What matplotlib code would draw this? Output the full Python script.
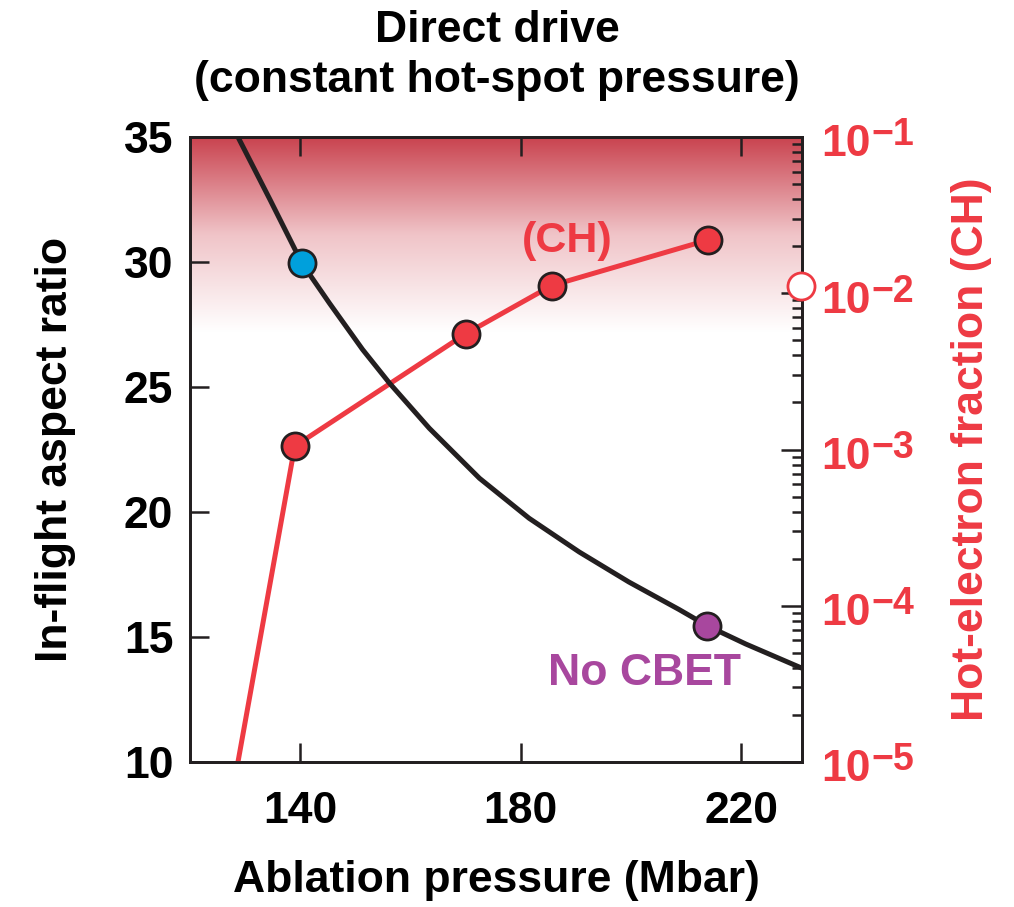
import numpy as np
import matplotlib
matplotlib.use("Agg")
import matplotlib.pyplot as plt
from matplotlib.colors import LinearSegmentedColormap
from matplotlib.ticker import FixedLocator, LogLocator, NullFormatter

plt.rcParams['font.family'] = ['Liberation Sans', 'DejaVu Sans']
plt.rcParams['font.weight'] = 'bold'
plt.rcParams['axes.labelweight'] = 'bold'

# black curve: in-flight aspect ratio vs ablation pressure
ifar_p = [128.7, 134.5, 140.3, 145.3, 151.3, 156.2, 163.4, 172.5, 181.5,
          190.6, 199.6, 208.7, 213.8, 220.8, 230.8]
ifar_v = [35.0, 32.5, 29.95, 28.35, 26.5, 25.15, 23.35, 21.35, 19.75,
          18.4, 17.2, 16.1, 15.45, 14.72, 13.77]

# blue / purple points on the black curve
blue_pt = (140.3, 29.95)
nocbet_pt = (213.8, 15.45)

# red curve: hot-electron fraction (CH)
hot_p = [128.7, 139.0, 170.0, 185.6, 213.9]
hot_v = [1.0e-5, 1.05e-3, 5.5e-3, 1.12e-2, 2.19e-2]
hot_marker_p = [139.0, 170.0, 185.6, 213.9]
hot_marker_v = [1.05e-3, 5.5e-3, 1.12e-2, 2.19e-2]

# open circle on the right axis
open_pt = (230.8, 1.11e-2)

x_ticks = [140, 180, 220]
y_ticks = [10, 15, 20, 25, 30, 35]
log_ticks = [1e-5, 1e-4, 1e-3, 1e-2, 1e-1]
log_exps = ['\u22125', '\u22124', '\u22123', '\u22122', '\u22121']

RED = '#ee3a43'
BLUE = '#00a0dc'
PURPLE = '#a8479e'
DARK = '#231f20'

fig = plt.figure(figsize=(10.14, 9.07), dpi=100)
ax = fig.add_axes([190 / 1014, 1 - 762 / 907, 612 / 1014, 625 / 907])
ax2 = ax.twinx()

# shaded band at the top
cmap = LinearSegmentedColormap.from_list('band', ['#ffffff', '#f0c4c8', '#c9434f'])
grad = np.linspace(0, 1, 256).reshape(-1, 1)
ax.imshow(grad, cmap=cmap, origin='lower', aspect='auto',
          extent=[120, 231, 27.2, 35], zorder=0, interpolation='bicubic')

ax.set_xlim(120, 231)
ax.set_ylim(10, 35)
ax2.set_yscale('log')
ax2.set_ylim(1e-5, 1e-1)

# red curve on log axis
ax2.plot(hot_p, hot_v, color=RED, lw=3.6, zorder=2, solid_capstyle='butt')
ax2.plot(hot_marker_p, hot_marker_v, 'o', ms=19.5, mfc=RED, mec=DARK, mew=2, zorder=3)
ax2.plot([open_pt[0]], [open_pt[1]], 'o', ms=19.5, mfc='white', mec=RED, mew=2,
         zorder=6, clip_on=False)

# black curve drawn on top (linear axis coords)
ax2.plot(ifar_p, ifar_v, color=DARK, lw=3.6, zorder=4, transform=ax.transData,
         solid_joinstyle='round')
ax2.plot([blue_pt[0]], [blue_pt[1]], 'o', ms=19.5, mfc=BLUE, mec=DARK, mew=2,
         zorder=5, transform=ax.transData)
ax2.plot([nocbet_pt[0]], [nocbet_pt[1]], 'o', ms=19.5, mfc=PURPLE, mec=DARK, mew=2,
         zorder=5, transform=ax.transData)

ax.text(188.4, 30.85, '(CH)', color=RED, fontsize=31, ha='center', va='center')
ax.text(202.5, 13.55, 'No CBET', color=PURPLE, fontsize=32, ha='center', va='center')

# axes styling
for a in (ax, ax2):
    for s in a.spines.values():
        s.set_color(DARK)
        s.set_linewidth(2)

ax.set_xticks(x_ticks)
ax.set_yticks(y_ticks)
ax.tick_params(axis='both', direction='in', length=14, width=1.8, color=DARK,
               labelsize=32, top=True, right=False, pad=12)
ax.tick_params(axis='x', pad=21)

ax2.yaxis.set_major_locator(FixedLocator(log_ticks))
ax2.yaxis.set_major_formatter(NullFormatter())
ax2.yaxis.set_minor_locator(LogLocator(base=10, subs=np.arange(2, 10)))
ax2.yaxis.set_minor_formatter(NullFormatter())
ax2.tick_params(axis='y', which='major', direction='in', length=15, width=1.8,
                color=DARK)
ax2.tick_params(axis='y', which='minor', direction='in', length=7.5, width=1.8,
                color=DARK)

# right tick labels: "10" with a large raised exponent
for v, e in zip(log_ticks, log_exps):
    ax2.annotate('10', xy=(1, v), xycoords=('axes fraction', 'data'),
                 xytext=(14, -14), textcoords='offset points',
                 ha='left', va='baseline', color=RED, fontsize=32)
    ax2.annotate(e, xy=(1, v), xycoords=('axes fraction', 'data'),
                 xytext=(50, -6), textcoords='offset points',
                 ha='left', va='baseline', color=RED, fontsize=27)

ax.set_xlabel('Ablation pressure (Mbar)', fontsize=32, va='center')
ax.xaxis.set_label_coords(0.5, -0.19)
ax.set_ylabel('In-flight aspect ratio', fontsize=32, va='center')
ax.yaxis.set_label_coords(-0.219, 0.5)
ax2.set_ylabel('Hot-electron fraction (CH)', fontsize=32, color=RED, va='center')
ax2.yaxis.set_label_coords(1.2775, 0.5)

fig.text(497 / 1014, 1 - 42 / 907, 'Direct drive', fontsize=32, ha='center',
         va='baseline')
fig.text(497 / 1014, 1 - 92 / 907, '(constant hot-spot pressure)', fontsize=32,
         ha='center', va='baseline')

fig.savefig('out.png', dpi=100)
